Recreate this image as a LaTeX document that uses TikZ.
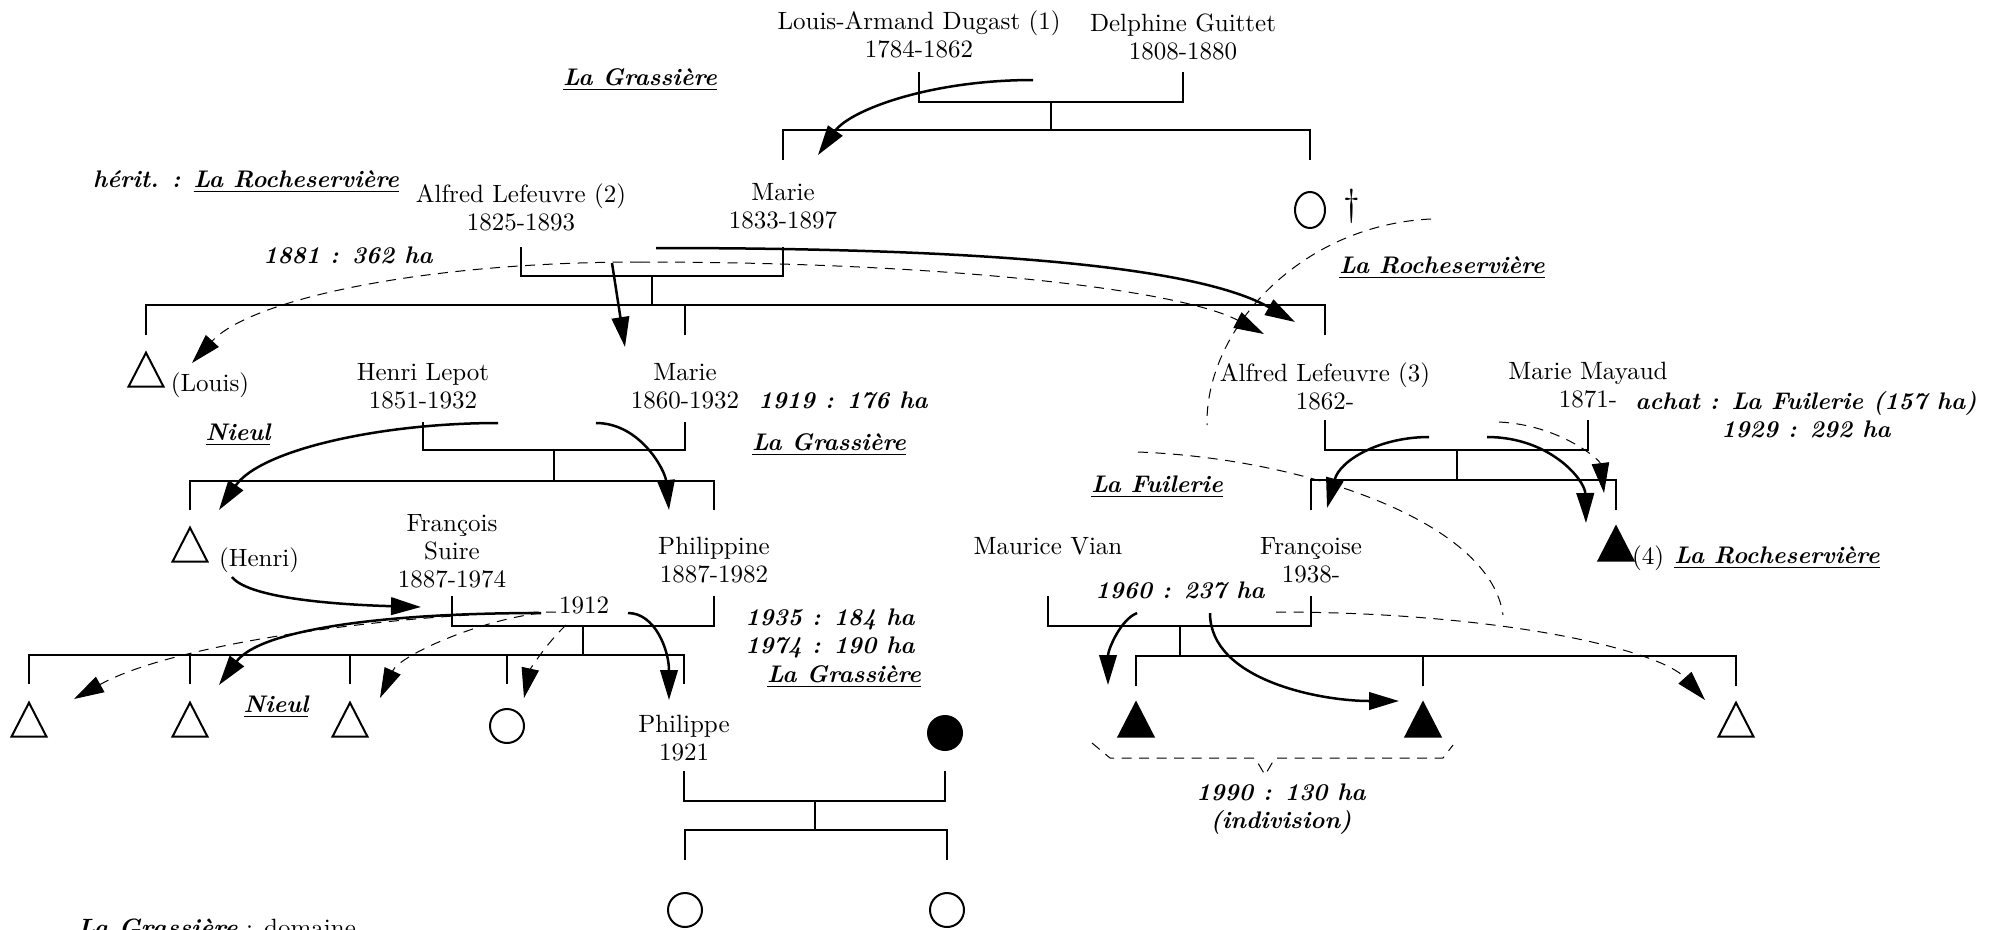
\documentclass[tikz,border=0pt]{standalone}
\usepackage{tikz}
\usetikzlibrary{arrows.meta,shapes.geometric}

\begin{document}
\begin{tikzpicture}[
  x=0.4pt, y=-0.4pt,
  font=\fontsize{10}{11.2}\selectfont,
  person/.style={align=center, inner sep=0pt},
  estate/.style={font=\fontsize{9.6}{11.2}\selectfont\bfseries\itshape, inner sep=0pt},
  note/.style={font=\fontsize{9.6}{11.2}\selectfont\bfseries\itshape, align=center, inner sep=0pt},
  kin/.style={line width=0.8pt},
  gift/.style={line width=1pt, -{Triangle[length=12pt,width=7pt]}},
  share/.style={line width=0.4pt, dash pattern=on 4pt off 3pt, -{Triangle[length=12pt,width=7pt]}},
  route/.style={line width=0.4pt, dash pattern=on 4pt off 3pt},
  man/.style={draw, line width=0.8pt, isosceles triangle, isosceles triangle stretches, shape border rotate=90, minimum width=14pt, minimum height=13.6pt, inner sep=0pt},
  heir/.style={man, fill=black},
  woman/.style={draw, line width=0.8pt, circle, minimum size=13.6pt, inner sep=0pt}
]
\useasboundingbox (0,0) rectangle (2000,929);

\node[person] (louis) at (919,34) {Louis-Armand Dugast (1)\\1784-1862};
\node[person] (delphine) at (1183,37) {Delphine Guittet\\1808-1880};
\node[estate] (grassA) at (640,80) {\underline{La Grassière}};

\node[estate] (herit) at (246,182) {hérit. : \underline{La Rocheservière}};
\node[person] (alfredA) at (521,207) {Alfred Lefeuvre (2)\\1825-1893};
\node[person] (marieA) at (783,206) {Marie\\1833-1897};
\node[woman, ellipse, minimum width=12pt, minimum height=14.4pt] (sister) at (1310,210) {};
\node[font=\fontsize{15}{15}\selectfont] (dag) at (1352,206) {\dag};
\node[estate] (ha1881) at (348,255) {1881 : 362 ha};
\node[estate] (rocheA) at (1442,268) {\underline{La Rocheservière}};

\node[man] (louisSon) at (146,376) {};
\node[person] (louisName) at (210,385) {(Louis)};
\node[person] (lepot) at (423,386) {Henri Lepot\\1851-1932};
\node[person] (marieB) at (685,386) {Marie\\1860-1932};
\node[estate] (ha1919) at (843,400) {1919 : 176 ha};
\node[estate] (grassB) at (829,445) {\underline{La Grassière}};
\node[estate] (nieulA) at (238,435) {\underline{Nieul}};
\node[person] (alfredB) at (1325,386) {Alfred Lefeuvre (3)\\1862-};
\node[person] (mayaud) at (1588,385) {Marie Mayaud\\1871-};
\node[note] (achat) at (1806,415) {achat : La Fuilerie (157 ha)\\1929 : 292 ha};
\node[estate] (fuilerie) at (1157,487) {\underline{La Fuilerie}};

\node[man] (henriSon) at (190,551) {};
\node[person] (henriName) at (259,560) {(Henri)};
\node[person] (suire) at (452,551) {François\\Suire\\1887-1974};
\node[person] (philippine) at (714,560) {Philippine\\1887-1982};
\node[person] (wedding) at (584,605) {1912};
\node[person] (vian) at (1048,546) {Maurice Vian};
\node[person] (francoise) at (1311,560) {Françoise\\1938-};
\node[estate] (ha1960) at (1180,590) {1960 : 237 ha};
\node[heir] (heirA) at (1616,550) {};
\node[person] (heirNum) at (1648,558) {(4)};
\node[estate] (rocheB) at (1777,558) {\underline{La Rocheservière}};

\node[man] (sonA) at (29,726) {};
\node[man] (sonB) at (190,726) {};
\node[man] (sonC) at (350,726) {};
\node[woman] (daughterA) at (507,726) {};
\node[estate] (nieulB) at (276,707) {\underline{Nieul}};
\node[person] (philippe) at (684,738) {Philippe\\1921};
\node[note] (ha1935) at (830,633) {1935 : 184 ha\\1974 : 190 ha};
\node[estate] (grassC) at (844,677) {\underline{La Grassière}};
\node[woman, fill=black] (wife) at (945,733) {};
\node[heir] (heirB) at (1136,726) {};
\node[heir] (heirC) at (1423,726) {};
\node[man] (grandson) at (1736,726) {};
\node[note] (ha1990) at (1281,809) {1990 : 130 ha\\(indivision)};

\node[woman] (grandA) at (685,910) {};
\node[woman] (grandB) at (947,910) {};
\node[anchor=base west, inner sep=0pt] (legend) at (77,936) {\textbf{\textit{La Grassière}} : domaine};

\draw[kin] (louis |- 0,72) |- (delphine |- 0,102) coordinate[pos=.75] (dugastMid) -- (delphine |- 0,72);
\draw[kin] (dugastMid) -- (dugastMid |- 0,130);
\draw[kin] (marieA |- 0,160) |- (sister |- 0,130) -- (sister |- 0,160);

\draw[kin] (alfredA |- 0,247) |- (marieA |- 0,276) coordinate[pos=.75] (lefeuvreMid) -- (marieA |- 0,247);
\draw[kin] (lefeuvreMid) -- (lefeuvreMid |- 0,305);
\draw[kin] (louisSon |- 0,335) |- (alfredB |- 0,305) -- (alfredB |- 0,335);
\draw[kin] (marieB |- 0,305) -- (marieB |- 0,335);

\draw[kin] (lepot |- 0,422) |- (marieB |- 0,450) coordinate[pos=.75] (lepotMid) -- (marieB |- 0,422);
\draw[kin] (lepotMid) -- (lepotMid |- 0,481);
\draw[kin] (henriSon |- 0,510) |- (philippine |- 0,481) -- (philippine |- 0,510);

\draw[kin] (alfredB |- 0,420) |- (mayaud |- 0,450) coordinate[pos=.75] (mayaudMid) -- (mayaud |- 0,420);
\draw[kin] (mayaudMid) -- (mayaudMid |- 0,480);
\draw[kin] (francoise |- 0,510) |- (heirA |- 0,480) -- (heirA |- 0,510);

\draw[kin] (suire |- 0,596) |- (philippine |- 0,626) coordinate[pos=.75] (suireMid) -- (philippine |- 0,596);
\draw[kin] (suireMid) -- (suireMid |- 0,655);
\draw[kin] (sonA |- 0,684) |- (philippe |- 0,655) -- (philippe |- 0,684);
\foreach \k in {sonB,sonC,daughterA}
  \draw[kin] (\k |- 0,655) -- (\k |- 0,684);

\draw[kin] (vian |- 0,596) |- (francoise |- 0,626) coordinate[pos=.75] (vianMid) -- (francoise |- 0,596);
\draw[kin] (vianMid) -- (vianMid |- 0,656);
\draw[kin] (heirB |- 0,686) |- (grandson |- 0,656) -- (grandson |- 0,686);
\draw[kin] (heirC |- 0,656) -- (heirC |- 0,686);

\draw[kin] (philippe |- 0,771) |- (wife |- 0,801) coordinate[pos=.75] (philippeMid) -- (wife |- 0,771);
\draw[kin] (philippeMid) -- (philippeMid |- 0,830);
\draw[kin] (grandA |- 0,860) |- (grandB |- 0,830) -- (grandB |- 0,860);

\coordinate (dugastOut) at (1033,80);
\coordinate (marieIn) at (818,155);
\coordinate (lefeuvreOut) at (612,263);
\coordinate (marieBIn) at (625,347);
\coordinate (rocheOut) at (656,248);
\coordinate (alfredIn) at (1295,322);
\coordinate (splitOut) at (640,262);
\coordinate (louisIn) at (192,363);
\coordinate (alfredDash) at (1264,334);
\coordinate (arcTop) at (1431,219);
\coordinate (arcEnd) at (1207,425);
\coordinate (lepotOut) at (498,423);
\coordinate (henriIn) at (219,510);
\coordinate (marieBOut) at (596,423);
\coordinate (philippineIn) at (669,510);
\coordinate (alfredBOut) at (1429,437);
\coordinate (francoiseIn) at (1327,508);
\coordinate (mayaudOut) at (1487,437);
\coordinate (heirAIn) at (1586,523);
\coordinate (mayaudDash) at (1499,422);
\coordinate (heirADash) at (1604,493);
\coordinate (fuilTop) at (1138,452);
\coordinate (fuilEnd) at (1503,615);
\coordinate (henriOut) at (232,577);
\coordinate (suireIn) at (421,607);
\coordinate (suireOut) at (541,613);
\coordinate (sonBIn) at (219,685);
\coordinate (suireDash) at (556,612);
\coordinate (sonAIn) at (74,699);
\coordinate (sonCIn) at (380,698);
\coordinate (daughterOut) at (566,625);
\coordinate (daughterIn) at (524,698);
\coordinate (weddingOut) at (628,613);
\coordinate (philippeIn) at (669,700);
\coordinate (vianOut) at (1137,613);
\coordinate (heirBIn) at (1108,685);
\coordinate (vianRight) at (1210,613);
\coordinate (heirCIn) at (1399,701);
\coordinate (vianDash) at (1276,612);
\coordinate (grandsonIn) at (1705,700);

\draw[gift] (dugastOut) .. controls (930,80) and (850,110) .. (marieIn);
\draw[gift] (lefeuvreOut) -- (marieBIn);
\draw[gift] (rocheOut) .. controls (1000,248) and (1200,268) .. (alfredIn);
\draw[share] (splitOut) .. controls (420,262) and (250,300) .. (louisIn);
\draw[share] (splitOut) .. controls (950,262) and (1180,290) .. (alfredDash);
\draw[route] (arcTop) .. controls (1300,225) and (1205,330) .. (arcEnd);

\draw[gift] (lepotOut) .. controls (380,423) and (260,450) .. (henriIn);
\draw[gift] (marieBOut) .. controls (640,423) and (665,470) .. (philippineIn);
\draw[gift] (alfredBOut) .. controls (1380,437) and (1340,460) .. (francoiseIn);
\draw[gift] (mayaudOut) .. controls (1550,437) and (1585,480) .. (heirAIn);
\draw[share] (mayaudDash) .. controls (1560,425) and (1600,460) .. (heirADash);
\draw[route] (fuilTop) .. controls (1300,458) and (1490,520) .. (fuilEnd);

\draw[gift] (henriOut) .. controls (250,600) and (350,605) .. (suireIn);
\draw[gift] (suireOut) .. controls (380,613) and (260,630) .. (sonBIn);
\draw[share] (suireDash) .. controls (420,612) and (180,640) .. (sonAIn);
\draw[share] (suireOut) .. controls (480,620) and (400,655) .. (sonCIn);
\draw[share] (daughterOut) .. controls (545,645) and (530,670) .. (daughterIn);
\draw[gift] (weddingOut) .. controls (655,613) and (669,650) .. (philippeIn);

\draw[gift] (vianOut) .. controls (1120,620) and (1108,650) .. (heirBIn);
\draw[gift] (vianRight) .. controls (1210,680) and (1320,701) .. (heirCIn);
\draw[share] (vianDash) .. controls (1500,612) and (1660,650) .. (grandsonIn);
\draw[route] (1092,743) -- (1110,758) -- (1255,758) -- (1265,775) -- (1275,758) -- (1443,758) -- (1453,745);
\end{tikzpicture}
\end{document}
